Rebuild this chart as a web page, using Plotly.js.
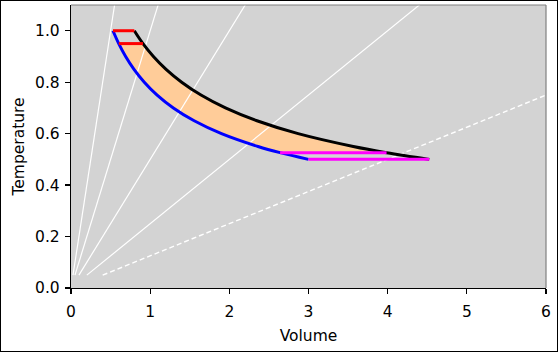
<!DOCTYPE html>
<html>
<head>
<meta charset="utf-8">
<script src="https://cdn.plot.ly/plotly-3.0.1.min.js"></script>
<style>
  html, body { margin: 0; padding: 0; background: #fff; }
  #wrap { position: relative; width: 558px; height: 352px; }
  #chart { width: 558px; height: 352px; }
  #frame { position: absolute; left: 0; top: 0; width: 558px; height: 352px; box-sizing: border-box; border: 1px solid #000; pointer-events: none; }
</style>
</head>
<body>
<div id="wrap"><div id="chart"></div><div id="frame"></div></div>
<script>
// Upper adiabat (black)
const blackV = [0.800, 0.909, 1.041, 1.201, 1.398, 1.642, 1.951, 2.349, 2.869, 3.566, 3.986, 4.525];
const blackT = [1.000, 0.950, 0.900, 0.850, 0.800, 0.750, 0.700, 0.650, 0.600, 0.550, 0.526, 0.500];
// Lower adiabat (blue)
const blueV = [0.530, 0.603, 0.690, 0.796, 0.926, 1.088, 1.293, 1.556, 1.901, 2.363, 2.641, 3.000];
const blueT = [1.000, 0.950, 0.900, 0.850, 0.800, 0.750, 0.700, 0.650, 0.600, 0.550, 0.526, 0.500];
// Shaded band (between T = 0.95 and T = 0.526)
const bandBlackV = [0.909, 1.041, 1.201, 1.398, 1.642, 1.951, 2.349, 2.869, 3.566, 3.986];
const bandBlueV  = [0.603, 0.690, 0.796, 0.926, 1.088, 1.293, 1.556, 1.901, 2.363, 2.641];
const bandT      = [0.950, 0.900, 0.850, 0.800, 0.750, 0.700, 0.650, 0.600, 0.550, 0.526];
// Horizontal segments
const redTopV = [0.530, 0.800], redTopT = [1.0, 1.0];
const redLowV = [0.603, 0.909], redLowT = [0.95, 0.95];
const magUpV = [2.641, 3.986], magUpT = [0.526, 0.526];
const magLowV = [3.000, 4.525], magLowT = [0.5, 0.5];
// Straight guide lines from near the origin (start and end points)
const guideStartV = [0.025, 0.05, 0.1, 0.2];
const guideStartT = [0.05, 0.05, 0.05, 0.05];
const guideEndV = [0.75, 1.5, 3.0, 6.0];
const guideEndT = [1.5, 1.5, 1.5, 1.5];
const dashedV = [0.4, 6.0], dashedT = [0.05, 0.75];
// Axis ticks
const xTicks = [0, 1, 2, 3, 4, 5, 6];
const yTicks = [0.0, 0.2, 0.4, 0.6, 0.8, 1.0];

const traces = [];
traces.push({x: bandBlueV, y: bandT, mode: 'lines', line: {width: 0, shape: 'spline', color: 'rgba(0,0,0,0)'}, hoverinfo: 'skip'});
traces.push({x: bandBlackV, y: bandT, mode: 'lines', fill: 'tonexty', fillcolor: '#ffcc99', line: {width: 0, shape: 'spline', color: 'rgba(0,0,0,0)'}, hoverinfo: 'skip'});
for (let i = 0; i < guideStartV.length; i++) {
  traces.push({x: [guideStartV[i], guideEndV[i]], y: [guideStartT[i], guideEndT[i]], mode: 'lines', line: {color: '#ffffff', width: 1.2}});
}
traces.push({x: dashedV, y: dashedT, mode: 'lines', line: {color: '#ffffff', width: 1.4, dash: '5px,3px'}});
traces.push({x: blackV, y: blackT, mode: 'lines', line: {color: '#000000', width: 3, shape: 'spline'}});
traces.push({x: blueV, y: blueT, mode: 'lines', line: {color: '#0000ff', width: 3, shape: 'spline'}});
traces.push({x: redTopV, y: redTopT, mode: 'lines', line: {color: '#ff0000', width: 3}});
traces.push({x: redLowV, y: redLowT, mode: 'lines', line: {color: '#ff0000', width: 3}});
traces.push({x: magUpV, y: magUpT, mode: 'lines', line: {color: '#ff00ff', width: 3}});
traces.push({x: magLowV, y: magLowT, mode: 'lines', line: {color: '#ff00ff', width: 3}});

const font = {family: 'DejaVu Sans', size: 15.5, color: '#000'};
const layout = {
  width: 558, height: 352,
  margin: {l: 71, r: 12, t: 5, b: 64},
  paper_bgcolor: '#ffffff',
  plot_bgcolor: '#d3d3d3',
  showlegend: false,
  font: font,
  xaxis: {
    range: [0, 6], tickvals: xTicks, ticktext: xTicks.map(v => String(v)),
    showgrid: false, zeroline: false, showline: true, linecolor: '#000', linewidth: 1.2,
    ticks: 'outside', ticklen: 5, tickwidth: 1.2, tickcolor: '#000',
    tickfont: font, ticklabelstandoff: 4, fixedrange: true,
    title: {text: 'Volume', font: font, standoff: 10}
  },
  yaxis: {
    range: [0, 1.1], tickvals: yTicks, ticktext: yTicks.map(v => v.toFixed(1)),
    showgrid: false, zeroline: false, showline: true, linecolor: '#000', linewidth: 1.2,
    ticks: 'outside', ticklen: 5, tickwidth: 1.2, tickcolor: '#000',
    tickfont: font, ticklabelstandoff: 2, fixedrange: true,
    title: {text: 'Temperature', font: font, standoff: 6}
  },
  shapes: [
    {type: 'line', xref: 'paper', yref: 'paper', x0: 0, x1: 1, y0: 1, y1: 1, line: {color: '#808080', width: 1.2}},
    {type: 'line', xref: 'paper', yref: 'paper', x0: 1, x1: 1, y0: 0, y1: 1, line: {color: '#808080', width: 1.2}}
  ]
};
Plotly.newPlot('chart', traces, layout, {staticPlot: true, displayModeBar: false});
</script>
</body>
</html>
